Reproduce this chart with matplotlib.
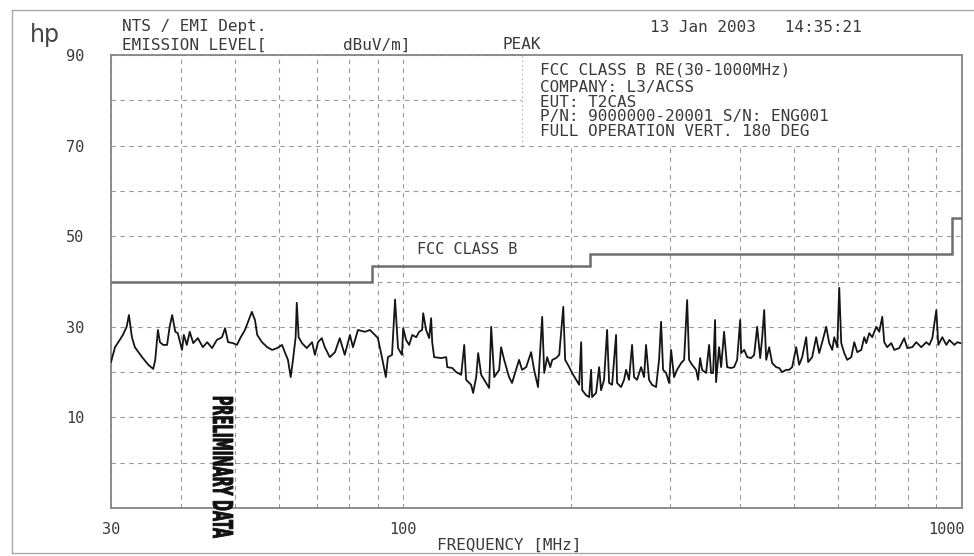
import matplotlib.pyplot as plt
from matplotlib.patches import Rectangle, PathPatch
from matplotlib.lines import Line2D
from matplotlib.textpath import TextPath
from matplotlib.font_manager import FontProperties
from matplotlib.transforms import Affine2D

# measured peak trace, MHz / dBuV/m
freq = [30.0, 30.5, 31.1, 31.5, 32.0, 32.3, 32.7, 33.1, 34.1, 35.0,
        35.7, 36.0, 36.4, 36.7, 37.2, 37.8, 38.2, 38.6, 39.1, 39.5,
        40.2, 40.5, 41.0, 41.5, 42.1, 42.9, 43.8, 44.6, 45.5, 46.4,
        47.4, 48.0, 48.6, 49.6, 50.4, 51.1, 52.1, 53.6, 54.3, 54.8,
        55.9, 57.1, 58.3, 59.5, 60.7, 61.4, 62.2, 62.9, 63.5, 64.2,
        64.5, 65.0, 65.9, 67.2, 68.7, 69.5, 70.4, 71.5, 72.4, 73.9,
        75.5, 77.0, 78.6, 80.3, 81.3, 83.0, 85.4, 87.2, 89.0, 90.1,
        91.6, 93.1, 93.9, 95.5, 96.7, 97.9, 99.5, 100.0, 101.2, 102.5,
        103.8, 105.5, 106.8, 108.1, 108.6, 109.9, 111.3, 112.2, 112.7, 113.6,
        116.9, 119.4, 119.9, 122.4, 124.4, 127.0, 128.6, 129.6, 132.3, 133.4,
        135.1, 136.2, 137.9, 139.6, 142.5, 143.7, 145.5, 148.5, 149.7, 151.6,
        154.7, 156.6, 159.2, 161.2, 163.2, 166.0, 169.4, 171.5, 174.3, 177.3,
        178.8, 181.0, 183.3, 184.8, 187.8, 190.2, 193.4, 194.9, 198.2, 200.6,
        204.0, 206.5, 208.2, 209.1, 212.5, 215.2, 216.9, 217.8, 221.4, 224.2,
        226.0, 228.8, 231.7, 233.6, 236.5, 240.4, 241.4, 245.4, 248.5, 250.5,
        253.6, 256.8, 258.9, 262.1, 266.5, 269.8, 272.0, 275.4, 278.8, 283.5,
        287.0, 289.4, 291.8, 295.5, 299.1, 301.6, 305.3, 309.1, 314.3, 318.2,
        322.2, 324.8, 328.9, 334.3, 337.1, 339.9, 342.7, 348.4, 352.7, 355.6,
        358.6, 361.5, 363.0, 367.5, 370.6, 375.2, 379.9, 386.2, 391.0, 395.9,
        400.9, 402.5, 407.6, 412.7, 419.5, 424.7, 430.0, 435.4, 439.0, 442.6,
        446.3, 451.8, 457.4, 465.0, 470.8, 476.7, 484.6, 490.6, 496.7, 505.0,
        511.2, 517.6, 526.2, 530.5, 539.3, 548.3, 555.2, 562.1, 571.5, 578.6,
        585.8, 590.7, 598.1, 603.0, 608.0, 615.6, 623.2, 633.6, 641.5, 649.5,
        660.3, 668.5, 674.0, 682.4, 690.9, 702.4, 711.1, 719.9, 725.9, 734.9,
        747.1, 756.4, 772.1, 788.2, 798.0, 814.6, 828.1, 845.5, 863.2, 874.0,
        884.9, 899.6, 907.0, 922.1, 937.5, 949.2, 969.0, 981.1, 993.3]
level = [22.2, 25.5, 27.1, 28.2, 30.0, 32.6, 27.7, 25.5, 23.3, 21.6,
         20.7, 22.7, 29.3, 26.6, 26.0, 26.0, 30.0, 32.6, 28.9, 28.6,
         24.9, 28.2, 26.0, 28.9, 26.4, 27.5, 25.5, 26.6, 25.3, 27.1,
         27.7, 29.7, 26.6, 26.4, 26.0, 27.5, 29.3, 33.3, 31.5, 28.2,
         26.6, 25.5, 24.9, 25.3, 26.0, 24.4, 22.7, 18.9, 22.7, 27.7,
         35.3, 27.7, 26.4, 25.3, 26.6, 23.8, 26.6, 27.5, 25.5, 23.3,
         24.4, 27.5, 23.8, 28.2, 25.5, 29.3, 28.9, 29.3, 28.2, 27.5,
         23.3, 18.9, 23.3, 23.8, 36.0, 25.3, 23.8, 29.7, 27.1, 26.0,
         28.2, 27.7, 28.9, 29.3, 33.0, 29.3, 27.5, 31.9, 26.6, 23.3,
         23.1, 23.3, 21.1, 20.9, 20.0, 19.4, 26.0, 18.3, 17.2, 15.4,
         18.9, 24.2, 19.4, 18.3, 16.5, 30.0, 18.9, 20.5, 25.5, 22.7,
         18.9, 17.6, 20.5, 22.7, 20.5, 21.1, 24.4, 20.5, 16.7, 32.2,
         19.8, 23.3, 21.1, 22.7, 23.1, 23.8, 34.4, 22.7, 21.1, 19.8,
         18.3, 17.2, 26.6, 16.0, 14.9, 14.5, 20.5, 14.5, 15.4, 21.1,
         16.0, 18.3, 29.3, 17.6, 17.2, 28.2, 17.6, 16.7, 18.3, 20.5,
         18.3, 26.0, 18.9, 18.3, 21.1, 18.9, 26.0, 18.3, 17.2, 16.7,
         22.7, 31.1, 20.5, 19.8, 17.6, 24.9, 18.9, 20.5, 22.0, 22.7,
         35.9, 22.7, 21.6, 20.5, 18.3, 23.1, 20.5, 19.8, 26.0, 19.8,
         19.8, 31.5, 17.8, 25.5, 21.1, 28.9, 21.1, 20.9, 21.1, 22.7,
         31.5, 24.2, 24.9, 23.3, 23.1, 23.8, 30.0, 23.1, 27.7, 33.7,
         22.7, 25.5, 22.0, 21.1, 20.9, 20.0, 20.5, 20.5, 21.1, 25.5,
         21.6, 23.3, 27.7, 22.2, 23.3, 27.7, 24.2, 26.6, 30.0, 26.4,
         24.9, 27.7, 25.5, 38.6, 26.4, 24.2, 22.7, 23.3, 26.6, 24.4,
         24.9, 27.7, 26.4, 28.6, 27.7, 30.0, 28.9, 32.2, 26.6, 25.5,
         26.4, 24.9, 25.3, 27.5, 25.3, 25.5, 26.6, 25.5, 26.6, 26.0,
         27.5, 33.7, 26.0, 27.7, 26.0, 27.1, 26.0, 26.6, 26.4]

# FCC class B limit (3 m)
limit_edges = [30, 88, 216, 960, 1000]
limit_level = [40, 43.5, 46, 54]

ytick_vals = [10, 30, 50, 70, 90]
ygrid_vals = [0, 20, 40, 60, 80]
xtick_vals = [30, 100, 1000]
xgrid_vals = [40, 50, 60, 70, 80, 90, 200, 300, 400, 500, 600, 700, 800, 900]

info_lines = ["FCC CLASS B RE(30-1000MHz)",
              "COMPANY: L3/ACSS",
              "EUT: T2CAS",
              "P/N: 9000000-20001 S/N: ENG001",
              "FULL OPERATION VERT. 180 DEG"]

MONO = "DejaVu Sans Mono"
TXT = "#3a3a3a"
GRID = "#9a9a9a"

fig = plt.figure(figsize=(9.74, 5.56), dpi=100)
ax = fig.add_axes([111 / 974, 48 / 556, 851 / 974, 453 / 556])

ax.set_xscale("log")
ax.set_xlim(30, 1000)
ax.set_ylim(-10, 90)

ax.set_xticks(xtick_vals)
ax.set_xticks(xgrid_vals, minor=True)
ax.set_xticklabels([])
ax.set_xticklabels([], minor=True)
ax.set_yticks(ytick_vals)
ax.set_yticks(ygrid_vals, minor=True)
ax.set_yticklabels([str(v) for v in ytick_vals], fontfamily=MONO, fontsize=11, color=TXT)
ax.tick_params(which="both", length=0)
ax.tick_params(axis="y", pad=19)
ax.set_axisbelow(True)
ax.grid(which="both", color=GRID, lw=0.8, ls=(0, (4, 4)))
for s in ax.spines.values():
    s.set_color("#858585")
    s.set_linewidth(1.3)

# x tick labels drawn by hand so 1000 can sit flush right
xl_tr = ax.get_xaxis_transform()
for v in xtick_vals:
    ha = "right" if v == xtick_vals[-1] else "center"
    ax.text(v * (1.01 if ha == "right" else 1.0), -0.03, str(v), transform=xl_tr,
            ha=ha, va="top", fontfamily=MONO, fontsize=11, color=TXT)

# annotation box hides the grid behind it
ax.add_patch(Rectangle((0.483, 0.80), 0.517, 0.20, transform=ax.transAxes,
                       facecolor="white", edgecolor="none", zorder=1))
ax.plot([0.483, 0.483], [0.80, 1.0], transform=ax.transAxes, color=GRID,
        lw=0.8, ls=(0, (1, 3)), zorder=1.5)
for i, line in enumerate(info_lines):
    ax.text(0.504, 0.966 - i * 0.032 - (0.006 if i > 0 else 0), line,
            transform=ax.transAxes, fontfamily=MONO, fontsize=11.5,
            color=TXT, va="center", ha="left", zorder=2)

ax.stairs(limit_level, limit_edges, baseline=None, color="#6e6e6e", lw=1.8, zorder=3)
ax.text(0.36, 0.57, "FCC CLASS B", transform=ax.transAxes, fontfamily=MONO,
        fontsize=11, color=TXT, va="center", ha="left")

ax.plot(freq, level, color="#151515", lw=1.3, zorder=4)

# header
fig.text(30 / 974, 1 - 35 / 556, "hp", fontsize=17, color="#444", va="center", ha="left")
fig.text(122 / 974, 1 - 27 / 556, "NTS / EMI Dept.", fontfamily=MONO, fontsize=11.5, color=TXT, va="center")
fig.text(122 / 974, 1 - 45 / 556, "EMISSION LEVEL[", fontfamily=MONO, fontsize=11.5, color=TXT, va="center")
fig.text(343 / 974, 1 - 45 / 556, "dBuV/m]", fontfamily=MONO, fontsize=11.5, color=TXT, va="center")
fig.text(503 / 974, 1 - 45 / 556, "PEAK", fontfamily=MONO, fontsize=11.5, color=TXT, va="center")
fig.text(650 / 974, 1 - 27 / 556, "13 Jan 2003   14:35:21", fontfamily=MONO, fontsize=11.5, color=TXT, va="center")
fig.text(437 / 974, 1 - 545 / 556, "FREQUENCY [MHz]", fontfamily=MONO, fontsize=11.5, color=TXT, va="center")

# "PRELIMINARY DATA" stamp, squeezed text path
tp = TextPath((0, 0), "PRELIMINARY DATA", size=20,
              prop=FontProperties(family="DejaVu Sans", weight="bold"))
bb = tp.get_extents()
stamp_tr = (Affine2D().translate(-bb.x0, -bb.y0)
            .scale(1 / bb.width, 1 / bb.height)
            .rotate_deg(-90)
            .scale(20 / 974, 141 / 556)
            .translate(213 / 974, 1 - 397 / 556))
fig.add_artist(PathPatch(stamp_tr.transform_path(tp), transform=fig.transFigure,
                         facecolor="#111", edgecolor="#111", lw=0.6))

# scanned page border
for xs, ys in [([12, 12], [10, 553]), ([12, 974], [10, 10]), ([12, 974], [553, 553])]:
    fig.add_artist(Line2D([x / 974 for x in xs], [1 - y / 556 for y in ys],
                          transform=fig.transFigure, color="#aaa", lw=1))

fig.savefig("out.png", dpi=100, facecolor="white")
